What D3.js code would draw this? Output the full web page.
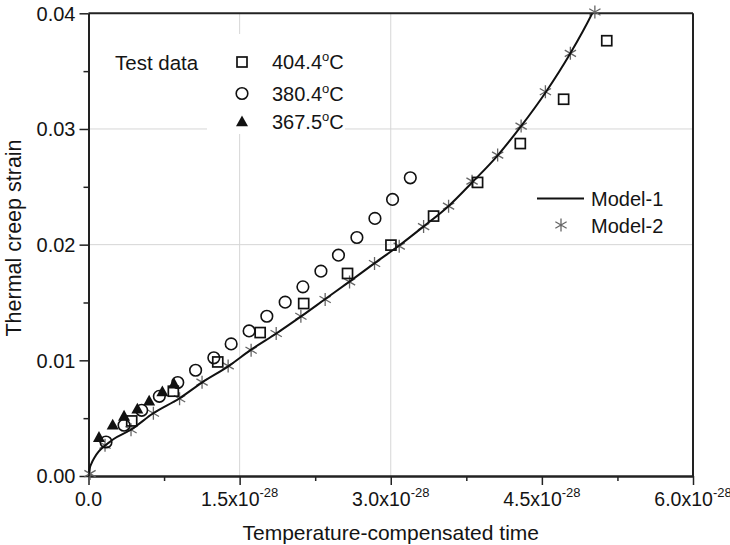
<!DOCTYPE html>
<html>
<head>
<meta charset="utf-8">
<script src="https://cdn.jsdelivr.net/npm/d3@7"></script>
<style>
  html, body { margin: 0; padding: 0; background: #fff; }
  svg { display: block; font-family: "Liberation Sans", Arial, sans-serif; }
</style>
</head>
<body>
<div id="chart"></div>
<script>
// ---- data (x in units of 1e-28) ----
const sq404 = [
  [0.429, 0.00476], [0.842, 0.00733], [1.283, 0.00986], [1.704, 0.01240],
  [2.136, 0.01491], [2.571, 0.01751], [3.002, 0.01996], [3.425, 0.02247],
  [3.862, 0.02538], [4.286, 0.02874], [4.716, 0.03257], [5.144, 0.03763]
];
const circ380 = [
  [0.174, 0.00294], [0.353, 0.00439], [0.528, 0.00568], [0.703, 0.00689],
  [0.886, 0.00808], [1.063, 0.00914], [1.244, 0.01022], [1.416, 0.01142],
  [1.594, 0.01254], [1.770, 0.01381], [1.952, 0.01503], [2.128, 0.01635],
  [2.307, 0.01771], [2.481, 0.01909], [2.664, 0.02062], [2.843, 0.02227],
  [3.018, 0.02391], [3.194, 0.02578]
];
const tri367 = [
  [0.104, 0.00332], [0.240, 0.00439], [0.353, 0.00516], [0.485, 0.00577],
  [0.602, 0.00646], [0.733, 0.00727], [0.849, 0.00793]
];
const model1 = [
  [0, 0], [0.01, 0.0006], [0.03, 0.0011], [0.06, 0.0016], [0.10, 0.0021],
  [0.16, 0.0026], [0.25, 0.0032], [0.42, 0.0040], [0.64, 0.0054], [0.90, 0.0067],
  [1.13, 0.0081], [1.39, 0.0095], [1.61, 0.0109], [1.86, 0.0123], [2.11, 0.0138],
  [2.35, 0.0153], [2.59, 0.0168], [2.84, 0.0184], [3.08, 0.0199], [3.33, 0.0216],
  [3.57, 0.0233], [3.81, 0.0254], [4.06, 0.0277], [4.29, 0.0302], [4.54, 0.0332],
  [4.78, 0.0365], [5.00, 0.0400], [5.05, 0.0409]
];
const model2 = [
  [0.015, 0.00021], [0.164, 0.00266], [0.422, 0.00400], [0.644, 0.00542],
  [0.904, 0.00668], [1.127, 0.00811], [1.386, 0.00952], [1.614, 0.01087],
  [1.863, 0.01232], [2.108, 0.01381], [2.349, 0.01526], [2.591, 0.01678],
  [2.839, 0.01837], [3.084, 0.01987], [3.326, 0.02156], [3.574, 0.02333],
  [3.807, 0.02549], [4.061, 0.02774], [4.294, 0.03025], [4.535, 0.03322],
  [4.783, 0.03654], [5.026, 0.04011]
];
const xTicks = [0, 1.5, 3.0, 4.5, 6.0];
const xMinorTicks = [0.75, 2.25, 3.75, 5.25];
const xTickLabels = ["0.0", "1.5x10", "3.0x10", "4.5x10", "6.0x10"];
const xTickExp = ["", "-28", "-28", "-28", "-28"];
const yTicks = [0, 0.01, 0.02, 0.03, 0.04];
const yMinorTicks = [0.005, 0.015, 0.025, 0.035];
const yTickLabels = ["0.00", "0.01", "0.02", "0.03", "0.04"];
const xGrid = [1.5, 3.0];
const yGrid = [0.02, 0.03];
const testLegend = [
  { label: "404.4", sym: "square" },
  { label: "380.4", sym: "circle" },
  { label: "367.5", sym: "triangle" }
];
const modelLegend = ["Model-1", "Model-2"];

// ---- layout ----
const W = 730, H = 545;
const ink = "#141414";
const svg = d3.select("#chart").append("svg").attr("width", W).attr("height", H);
const x = d3.scaleLinear().domain([0, 6]).range([88.5, 693]);
const y = d3.scaleLinear().domain([0, 0.04]).range([476, 13.3]);

// gridlines
svg.append("g").selectAll("line").data(xGrid).join("line")
  .attr("x1", d => x(d)).attr("x2", d => x(d))
  .attr("y1", y(0)).attr("y2", y(0.04))
  .attr("stroke", "#d6d6d6").attr("stroke-width", 1);
svg.append("g").selectAll("line").data(yGrid).join("line")
  .attr("x1", x(0)).attr("x2", x(6))
  .attr("y1", d => y(d)).attr("y2", d => y(d))
  .attr("stroke", "#d6d6d6").attr("stroke-width", 1);

// legend background (covers gridlines)
svg.append("rect").attr("x", 207).attr("y", 34).attr("width", 138).attr("height", 100).attr("fill", "#fff");

// frame (top + right)
svg.append("line").attr("x1", x(0)).attr("x2", x(6)).attr("y1", y(0.04)).attr("y2", y(0.04))
  .attr("stroke", "#222").attr("stroke-width", 2);
svg.append("line").attr("x1", x(6)).attr("x2", x(6)).attr("y1", y(0.04)).attr("y2", y(0))
  .attr("stroke", "#222").attr("stroke-width", 2);

// axes
const axStyle = g => {
  g.select(".domain").attr("stroke", "#222").attr("stroke-width", 2);
  g.selectAll(".tick line").attr("stroke", "#222").attr("stroke-width", 1.5);
  g.selectAll(".tick text").remove();
};
svg.append("g").attr("transform", `translate(0,${y(0)})`)
  .call(d3.axisBottom(x).tickValues(xMinorTicks).tickSize(5).tickSizeOuter(0).tickFormat(""))
  .call(axStyle);
svg.append("g").attr("transform", `translate(0,${y(0)})`)
  .call(d3.axisBottom(x).tickValues(xTicks).tickSize(9).tickSizeOuter(0).tickFormat(""))
  .call(axStyle);
svg.append("g").attr("transform", `translate(${x(0)},0)`)
  .call(d3.axisLeft(y).tickValues(yMinorTicks).tickSize(5).tickSizeOuter(0).tickFormat(""))
  .call(axStyle);
svg.append("g").attr("transform", `translate(${x(0)},0)`)
  .call(d3.axisLeft(y).tickValues(yTicks).tickSize(9).tickSizeOuter(0).tickFormat(""))
  .call(axStyle);

// tick labels
const xl = svg.append("g").selectAll("text").data(xTicks).join("text")
  .attr("x", d => x(d)).attr("y", 506)
  .attr("text-anchor", "middle").attr("font-size", 19.5).attr("fill", ink);
xl.append("tspan").text((d, i) => xTickLabels[i]);
xl.append("tspan").attr("dy", -9).attr("font-size", 13).text((d, i) => xTickExp[i]);

svg.append("g").selectAll("text").data(yTicks).join("text")
  .attr("x", 75.5).attr("y", d => y(d)).attr("dy", "0.36em")
  .attr("text-anchor", "end").attr("font-size", 20).attr("fill", ink)
  .text((d, i) => yTickLabels[i]);

// axis titles
svg.append("text").attr("x", (x(0) + x(6)) / 2).attr("y", 540)
  .attr("text-anchor", "middle").attr("font-size", 21).attr("fill", ink)
  .text("Temperature-compensated time");
svg.append("text").attr("transform", `translate(21,238) rotate(-90)`)
  .attr("text-anchor", "middle").attr("font-size", 21.5).attr("fill", ink)
  .text("Thermal creep strain");

// clip
svg.append("clipPath").attr("id", "plotclip").append("rect")
  .attr("x", x(0)).attr("y", y(0.04)).attr("width", x(6) - x(0)).attr("height", y(0) - y(0.04));

// symbol helpers
function drawSquare(g, cx, cy, s) {
  g.append("rect").attr("x", cx - s / 2).attr("y", cy - s / 2).attr("width", s).attr("height", s)
    .attr("fill", "none").attr("stroke", "#111").attr("stroke-width", 1.7);
}
function drawCircle(g, cx, cy, r) {
  g.append("circle").attr("cx", cx).attr("cy", cy).attr("r", r)
    .attr("fill", "none").attr("stroke", "#111").attr("stroke-width", 1.6);
}
function drawTri(g, cx, cy, s) {
  const h = s * 0.9;
  g.append("path").attr("d", `M${cx},${cy - h * 0.6}L${cx + s / 2},${cy + h * 0.4}L${cx - s / 2},${cy + h * 0.4}Z`)
    .attr("fill", "#111");
}
function drawStar(g, cx, cy, r) {
  const d = [];
  [90, 30, 150].forEach(a => {
    const t = a * Math.PI / 180;
    d.push(`M${cx - r * Math.cos(t)},${cy - r * Math.sin(t)}L${cx + r * Math.cos(t)},${cy + r * Math.sin(t)}`);
  });
  g.append("path").attr("d", d.join("")).attr("stroke", "#666").attr("stroke-width", 1.3).attr("fill", "none");
}

// model-2 stars
const gStar = svg.append("g");
model2.forEach(d => drawStar(gStar, x(d[0]), y(d[1]), 6.5));

// model-1 line
svg.append("path").datum(model1)
  .attr("clip-path", "url(#plotclip)")
  .attr("d", d3.line().x(d => x(d[0])).y(d => y(d[1])).curve(d3.curveMonotoneX))
  .attr("fill", "none").attr("stroke", "#111").attr("stroke-width", 2);

// test data
const gPts = svg.append("g");
sq404.forEach(d => drawSquare(gPts, x(d[0]), y(d[1]), 10));
circ380.forEach(d => drawCircle(gPts, x(d[0]), y(d[1]), 5.8));
tri367.forEach(d => drawTri(gPts, x(d[0]), y(d[1]), 12));

// legend: test data
svg.append("text").attr("x", 115).attr("y", 70).attr("font-size", 20.5).attr("fill", ink).text("Test data");
const legY = [62, 93.5, 122];
testLegend.forEach((e, i) => {
  const cy = legY[i];
  if (e.sym === "square") drawSquare(svg, 242, cy, 10);
  if (e.sym === "circle") drawCircle(svg, 242, cy, 5.8);
  if (e.sym === "triangle") drawTri(svg, 242, cy, 12);
  const t = svg.append("text").attr("x", 272).attr("y", cy + 7).attr("font-size", 20).attr("fill", ink);
  t.append("tspan").text(e.label);
  t.append("tspan").attr("dy", -8).attr("font-size", 13).text("o");
  t.append("tspan").attr("dy", 8).text("C");
});

// legend: models
svg.append("line").attr("x1", 537).attr("x2", 584).attr("y1", 198.5).attr("y2", 198.5)
  .attr("stroke", "#111").attr("stroke-width", 2);
drawStar(svg, 561, 225, 6.5);
svg.append("g").selectAll("text").data(modelLegend).join("text")
  .attr("x", 591).attr("y", (d, i) => 205.5 + i * 27)
  .attr("font-size", 20).attr("fill", ink).text(d => d);
</script>
</body>
</html>
